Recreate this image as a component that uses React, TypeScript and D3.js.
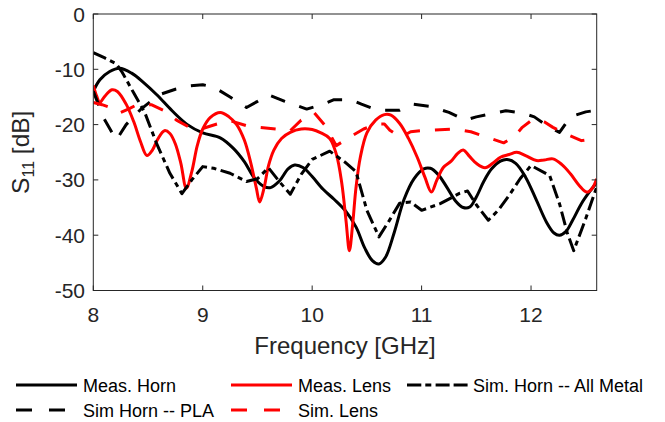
import React from "react";
import * as d3 from "d3";

type P = [number, number];

const xTicks = [8, 9, 10, 11, 12];
const yTicks = [0, -10, -20, -30, -40, -50];
const xTickLabels = ["8", "9", "10", "11", "12"];
const yTickLabels = ["0", "-10", "-20", "-30", "-40", "-50"];

const measHorn: P[] = [
  [8.0, -14.0], [8.06, -11.9], [8.15, -10.4], [8.24, -9.8], [8.35, -10.7], [8.46, -12.4],
  [8.58, -14.6], [8.72, -17.5], [8.86, -20.0], [9.0, -21.5], [9.16, -22.4], [9.28, -24.3],
  [9.38, -26.7], [9.47, -29.6], [9.56, -31.2], [9.62, -31.4], [9.7, -30.2], [9.78, -28.0],
  [9.84, -27.3], [9.92, -27.8], [10.0, -29.4], [10.1, -31.7], [10.2, -33.5], [10.3, -35.5],
  [10.4, -38.5], [10.48, -42.3], [10.55, -44.6], [10.61, -45.2], [10.67, -44.0], [10.75, -39.5],
  [10.84, -33.5], [10.93, -29.8], [11.02, -28.0], [11.08, -27.9], [11.15, -29.0], [11.23, -31.3],
  [11.31, -33.8], [11.38, -35.0], [11.44, -34.9], [11.5, -33.1], [11.57, -30.2], [11.64, -28.0],
  [11.72, -26.6], [11.78, -26.3], [11.86, -27.0], [11.95, -29.5], [12.05, -33.7], [12.14, -37.6],
  [12.21, -39.6], [12.26, -40.0], [12.32, -39.3], [12.38, -37.3], [12.46, -34.3], [12.54, -32.0],
  [12.6, -30.5],
];

const measLens: P[] = [
  [8.0, -12.9], [8.03, -14.8], [8.06, -16.0], [8.1, -15.0], [8.17, -13.7], [8.22, -14.0],
  [8.3, -16.3], [8.37, -19.5], [8.43, -23.0], [8.49, -25.6], [8.54, -24.6], [8.59, -22.6],
  [8.65, -21.1], [8.7, -21.6], [8.75, -23.5], [8.8, -27.0], [8.85, -31.5], [8.9, -28.5],
  [8.95, -23.8], [9.0, -20.8], [9.07, -18.7], [9.16, -17.8], [9.24, -18.6], [9.31, -20.0],
  [9.38, -22.8], [9.44, -27.0], [9.49, -31.5], [9.52, -34.0], [9.56, -31.5], [9.6, -27.5],
  [9.65, -24.6], [9.72, -22.5], [9.8, -21.4], [9.9, -20.8], [10.0, -20.9], [10.08, -21.5],
  [10.16, -22.5], [10.22, -25.3], [10.27, -30.5], [10.31, -37.5], [10.34, -42.8], [10.37, -38.0],
  [10.4, -31.5], [10.44, -25.9], [10.5, -21.5], [10.58, -19.2], [10.66, -18.2], [10.72, -18.3],
  [10.8, -19.8], [10.88, -22.5], [10.96, -25.9], [11.03, -29.5], [11.09, -32.2], [11.14, -30.0],
  [11.2, -27.7], [11.27, -26.6], [11.33, -25.2], [11.38, -24.6], [11.44, -25.8], [11.5, -27.0],
  [11.58, -27.8], [11.65, -27.0], [11.72, -25.9], [11.8, -25.4], [11.87, -25.0], [11.95, -25.6],
  [12.05, -26.5], [12.12, -26.4], [12.2, -26.2], [12.28, -27.2], [12.36, -28.9], [12.44, -31.0],
  [12.51, -32.2], [12.56, -31.5], [12.6, -29.8],
];

const simHornMetal: P[] = [
  [8.0, -7.0], [8.1, -7.9], [8.21, -9.0], [8.26, -10.4], [8.37, -14.3], [8.47, -17.8],
  [8.58, -23.5], [8.7, -28.8], [8.81, -32.5], [8.9, -30.0], [9.0, -27.6], [9.1, -27.9],
  [9.25, -28.8], [9.4, -30.3], [9.5, -29.8], [9.6, -27.8], [9.7, -30.3], [9.8, -32.6],
  [9.9, -29.0], [10.0, -26.3], [10.16, -24.8], [10.3, -26.8], [10.4, -28.5], [10.5, -35.5],
  [10.61, -40.3], [10.7, -37.5], [10.8, -34.2], [10.9, -34.0], [11.0, -35.5], [11.17, -34.3],
  [11.35, -32.4], [11.42, -32.0], [11.5, -34.5], [11.61, -37.3], [11.7, -35.5], [11.81, -32.5],
  [11.9, -29.8], [12.0, -27.4], [12.17, -29.2], [12.26, -34.3], [12.33, -39.5], [12.39, -42.8],
  [12.5, -37.0], [12.6, -31.3],
];

const simHornPLA: P[] = [
  [8.0, -14.0], [8.1, -19.0], [8.21, -22.8], [8.3, -20.0], [8.43, -17.3], [8.6, -14.6],
  [8.75, -13.6], [8.88, -13.0], [9.0, -12.8], [9.1, -13.2], [9.25, -15.0], [9.4, -16.9],
  [9.5, -15.8], [9.6, -14.6], [9.75, -15.8], [9.95, -17.2], [10.09, -16.4], [10.2, -15.5],
  [10.35, -15.5], [10.45, -16.3], [10.6, -17.4], [10.8, -17.4], [10.92, -16.3], [11.08, -16.7],
  [11.25, -17.8], [11.4, -19.2], [11.5, -18.6], [11.65, -18.0], [11.77, -17.5], [11.92, -17.9],
  [12.03, -18.6], [12.16, -20.4], [12.26, -21.4], [12.36, -18.6], [12.5, -17.7], [12.6, -17.4],
];

const simLens: P[] = [
  [8.0, -16.0], [8.08, -16.4], [8.17, -17.0], [8.24, -17.9], [8.32, -17.2], [8.4, -16.4],
  [8.53, -16.4], [8.66, -17.6], [8.76, -19.2], [8.88, -20.5], [9.0, -20.7], [9.13, -19.9],
  [9.25, -19.3], [9.4, -20.2], [9.52, -20.5], [9.68, -20.8], [9.8, -21.1], [9.9, -19.2],
  [10.02, -17.9], [10.12, -20.2], [10.22, -23.8], [10.35, -22.2], [10.47, -20.8], [10.59, -19.9],
  [10.66, -19.9], [10.71, -21.0], [10.81, -22.3], [10.9, -21.3], [11.0, -21.1], [11.1, -21.0],
  [11.3, -20.8], [11.45, -21.3], [11.6, -22.3], [11.75, -23.3], [11.84, -22.3], [11.92, -20.5],
  [12.0, -19.3], [12.05, -19.0], [12.12, -19.5], [12.2, -20.5], [12.32, -21.7], [12.46, -22.9],
  [12.6, -22.5],
];

const seriesNames = ["Meas. Horn", "Meas. Lens", "Sim. Horn -- All Metal", "Sim Horn -- PLA", "Sim. Lens"];

const W = 665;
const H = 422;
const X0 = 93.3;
const X1 = 596.7;
const Y0 = 14;
const Y1 = 290.5;
const FONT = "'Liberation Sans', Arial, Helvetica, sans-serif";
const AX = "#262626";

export default function App() {
  const x = d3.scaleLinear().domain([8, 12.6]).range([X0, X1]);
  const y = d3.scaleLinear().domain([-50, 0]).range([Y1, Y0]);
  const smooth = d3.line<P>().x((d) => x(d[0])).y((d) => y(d[1])).curve(d3.curveCatmullRom.alpha(0.5));
  const straight = d3.line<P>().x((d) => x(d[0])).y((d) => y(d[1]));

  const series = [
    { name: seriesNames[0], data: measHorn, color: "#000000", dash: "none", legDash: "none", gen: smooth },
    { name: seriesNames[1], data: measLens, color: "#ff0000", dash: "none", legDash: "none", gen: smooth },
    { name: seriesNames[2], data: simHornMetal, color: "#000000", dash: "14,4.5,5,4.5", legDash: "14.3,4,6,4.3,14,4,14", gen: straight },
    { name: seriesNames[3], data: simHornPLA, color: "#000000", dash: "15,15", legDash: "16,17", gen: straight },
    { name: seriesNames[4], data: simLens, color: "#ff0000", dash: "15,15", legDash: "16,17", gen: straight },
  ];

  const legendPos = [
    { lx: 16, tx: 83, y: 385 },
    { lx: 231, tx: 298, y: 385 },
    { lx: 407, tx: 473, y: 385 },
    { lx: 16, tx: 83, y: 410 },
    { lx: 231, tx: 298, y: 410 },
  ];

  return (
    <svg width={W} height={H} style={{ position: "absolute", left: 0, top: 0, background: "#fff" }} fontFamily={FONT}>
      <defs>
        <clipPath id="plotclip">
          <rect x={X0} y={Y0} width={X1 - X0} height={Y1 - Y0} />
        </clipPath>
      </defs>
      <rect x={0} y={0} width={W} height={H} fill="#fff" />
      <g clipPath="url(#plotclip)">
        {series.map((s, i) => (
          <path key={i} d={s.gen(s.data) || ""} fill="none" stroke={s.color} strokeWidth={3}
            strokeDasharray={s.dash} strokeLinejoin="round" />
        ))}
      </g>
      <rect x={X0} y={Y0} width={X1 - X0} height={Y1 - Y0} fill="none" stroke={AX} strokeWidth={1} />
      {xTicks.map((t, i) => (
        <g key={"xt" + i}>
          <line x1={x(t)} x2={x(t)} y1={Y1} y2={Y1 - 5} stroke={AX} strokeWidth={1} />
          <line x1={x(t)} x2={x(t)} y1={Y0} y2={Y0 + 5} stroke={AX} strokeWidth={1} />
          <text x={x(t)} y={321.5} textAnchor="middle" fontSize={21} fill={AX}>{xTickLabels[i]}</text>
        </g>
      ))}
      {yTicks.map((t, i) => (
        <g key={"yt" + i}>
          <line x1={X0} x2={X0 + 5} y1={y(t)} y2={y(t)} stroke={AX} strokeWidth={1} />
          <line x1={X1} x2={X1 - 5} y1={y(t)} y2={y(t)} stroke={AX} strokeWidth={1} />
          <text x={85} y={y(t) + 7.5} textAnchor="end" fontSize={21} fill={AX}>{yTickLabels[i]}</text>
        </g>
      ))}
      <text x={(X0 + X1) / 2} y={353.5} textAnchor="middle" fontSize={24} fill={AX}>Frequency [GHz]</text>
      <text transform={`translate(29, ${(Y0 + Y1) / 2}) rotate(-90)`} textAnchor="middle" fontSize={24.5} fill={AX}>
        S<tspan fontSize={16} dy={5}>11</tspan><tspan dy={-5}> [dB]</tspan>
      </text>
      {series.map((s, i) => {
        const p = legendPos[i];
        return (
          <g key={"lg" + i}>
            <line x1={p.lx} x2={p.lx + 61} y1={p.y} y2={p.y} stroke={s.color} strokeWidth={3.2} strokeDasharray={s.legDash} />
            <text x={p.tx} y={p.y + 6.5} fontSize={18} fill="#000">{s.name}</text>
          </g>
        );
      })}
    </svg>
  );
}
